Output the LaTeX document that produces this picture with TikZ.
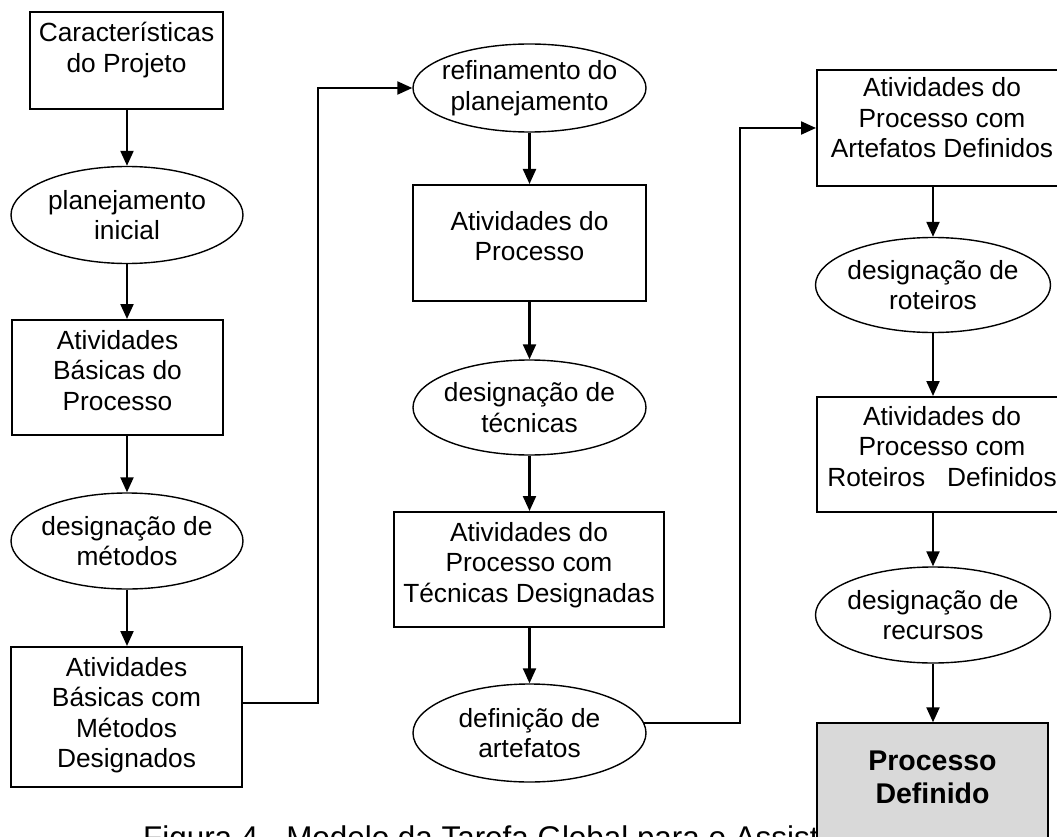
\documentclass[tikz,border=0pt]{standalone}
\usepackage{fontspec}
\setmainfont{Liberation Sans}
\usetikzlibrary{arrows.meta,shapes.geometric}
\definecolor{endfill}{RGB}{217,217,217}
% zero-width centred line, so an ellipse keeps its own size
\newcommand\zl[1]{\makebox[0pt]{#1}}
\begin{document}
\begin{tikzpicture}[x=1pt,y=-1pt,
  every node/.style={font=\fontsize{26.3}{30.5}\selectfont, align=center, inner sep=0pt},
  box/.style={draw, line width=2pt, rectangle},
  ell/.style={draw, line width=1.4pt, ellipse, minimum width=233pt},
  conn/.style={line width=2.2pt, -{Triangle[length=15pt,width=13pt]}},
]
\useasboundingbox (0,0) rectangle (1057,837);
\fill[white] (0,0) rectangle (1057,837);
\clip (0,0) rectangle (1057,837);

% caption, partly hidden behind the final box
\node[anchor=base west, font=\fontsize{31.4}{36}\selectfont] (cap) at (143,848)
  {Figura 4 - Modelo da Tarefa Global para o Assist};

% left column (text height/depth are measured from the last line)
\node[box, minimum width=193pt, text height=60.5pt, text depth=36.5pt] (L1) at (126.5,60.5)
  {Características\\do Projeto};
\node[ell, minimum width=232pt, minimum height=97pt] (L2) at (127,215)
  {\zl{planejamento}\\\zl{inicial}};
\node[box, minimum width=211pt, text height=90pt, text depth=25pt] (L3) at (117.5,377.5)
  {Atividades\\Básicas do\\Processo};
\node[ell, minimum width=232pt, minimum height=96pt] (L4) at (127,541)
  {\zl{designação de}\\\zl{métodos}};
\node[box, minimum width=231pt, text height=120.5pt, text depth=19.5pt] (L5) at (126.5,717)
  {Atividades\\Básicas com\\Métodos\\Designados};

% middle column
\node[ell, minimum height=88pt] (M1) at (529.5,88)
  {\zl{refinamento do}\\\zl{planejamento}};
\node[box, minimum width=233pt, text height=75.5pt, text depth=40.5pt] (M2) at (529.5,243)
  {Atividades do\\Processo};
\node[ell, minimum height=95pt] (M3) at (529.5,407.5)
  {\zl{designação de}\\\zl{técnicas}};
\node[box, minimum width=270pt, text height=90pt, text depth=25pt] (M4) at (529,569.5)
  {Atividades do\\Processo com\\Técnicas Designadas};
\node[ell, minimum height=98pt] (M5) at (529.5,733)
  {\zl{definição de}\\\zl{artefatos}};

% right column
\node[box, minimum width=250pt, text height=88pt, text depth=28pt] (R1) at (942,128)
  {Atividades do\\Processo com\\Artefatos Definidos};
\node[ell, minimum width=235pt, minimum height=95pt] (R2) at (933,285)
  {\zl{designação de}\\\zl{roteiros}};
\node[box, minimum width=250pt, text height=89pt, text depth=26pt] (R3) at (942,454.5)
  {Atividades do\\Processo com\\Roteiros\ \ \ Definidos};
\node[ell, minimum width=235pt, minimum height=96pt] (R4) at (933,615)
  {\zl{designação de}\\\zl{recursos}};
\node[box, fill=endfill, line width=1.4pt, minimum width=231pt, text height=80pt, text depth=44pt,
      font=\fontsize{28.5}{33}\selectfont\bfseries] (R5) at (932.5,785)
  {Processo\\Definido};

% bends of the column-to-column connectors
\coordinate (c1) at (318,88);
\coordinate (c2) at (740,128);

% connectors
\draw[conn] (L1.south -| L2.north) -- (L2.north);
\draw[conn] (L2.south) -- (L2.south |- L3.north);
\draw[conn] (L3.south -| L4.north) -- (L4.north);
\draw[conn] (L4.south) -- (L4.south |- L5.north);
\draw[conn] ([yshift=14pt]L5.east) -| (c1) -- (M1.west);
\draw[conn] (M1.south) -- (M1.south |- M2.north);
\draw[conn] (M2.south -| M3.north) -- (M3.north);
\draw[conn] (M3.south) -- (M3.south |- M4.north);
\draw[conn] (M4.south -| M5.north) -- (M5.north);
\draw[conn] (M5.5) -| (c2) -- (R1.west);
\draw[conn] (R1.south -| R2.north) -- (R2.north);
\draw[conn] (R2.south) -- (R2.south |- R3.north);
\draw[conn] (R3.south -| R4.north) -- (R4.north);
\draw[conn] (R4.south) -- (R4.south |- R5.north);
\end{tikzpicture}
\end{document}
